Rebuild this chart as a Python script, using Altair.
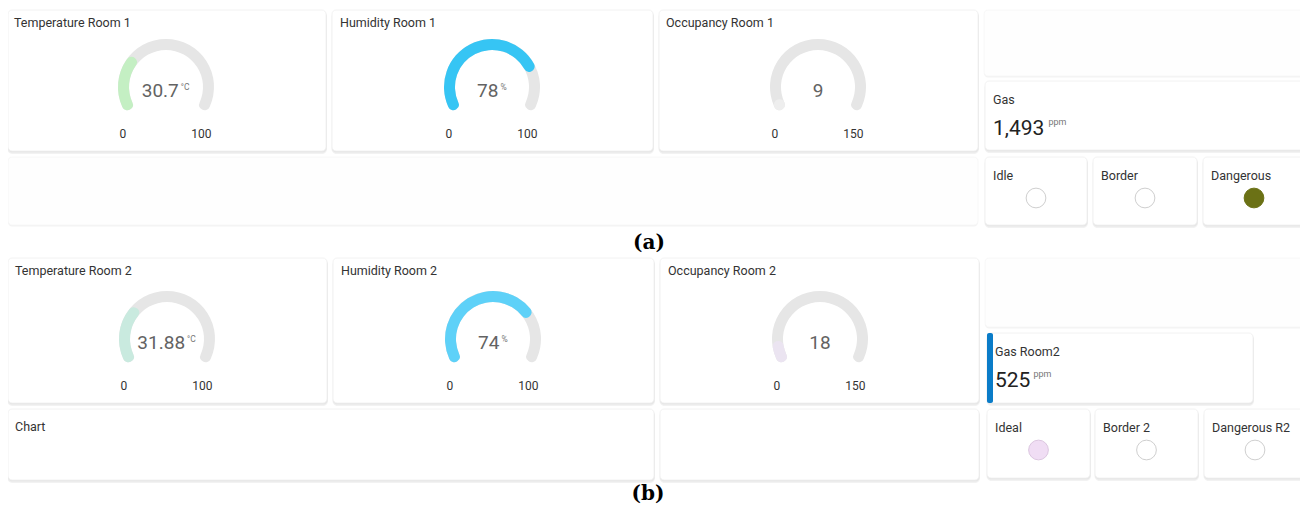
import math
import altair as alt
import pandas as pd

gauge_titles = ["Temperature Room 1", "Humidity Room 1", "Occupancy Room 1",
                "Temperature Room 2", "Humidity Room 2", "Occupancy Room 2"]
gauge_values = [30.7, 78, 9, 31.88, 74, 18]
gauge_value_text = ["30.7", "78", "9", "31.88", "74", "18"]
gauge_min = [0, 0, 0, 0, 0, 0]
gauge_max = [100, 100, 150, 100, 100, 150]
gauge_units = ["°C", "%", "", "°C", "%", ""]
gauge_colors = ["#c4efc3", "#36c5f4", "#eeeeee", "#c9eadf", "#5ed1f8", "#ebe4f1"]

gas_titles = ["Gas", "Gas Room2"]
gas_values = [1493, 525]
gas_unit = "ppm"

indicator_labels = ["Idle", "Border", "Dangerous", "Ideal", "Border 2", "Dangerous R2"]
indicator_fill = ["#ffffff", "#ffffff", "#6b7115", "#f0ddf4", "#ffffff", "#ffffff"]
indicator_stroke = ["#cfcfcf", "#cfcfcf", "#6b7115", "#dcc6e0", "#cfcfcf", "#cfcfcf"]

panel_labels = ["(a)", "(b)"]
chart_card_title = "Chart"

# ---------------- layout (page pixels) ----------------
W, H = 1292, 496
gauge_cards = [(8, 326, 10, 151), (332, 653, 10, 151), (659, 978, 10, 151),
               (8, 327, 258, 403), (333, 654, 258, 403), (660, 979, 258, 403)]
gauge_title_x = [14, 340, 666, 15, 341, 668]
gauge_cx = [166, 492, 818, 167, 493, 820]
gauge_cy = [87, 87, 87, 339, 339, 339]
gas_cards = [(985, 1305, 81, 150), (987, 1253, 333, 403)]
indicator_cards = [(985, 1087, 157, 225), (1093, 1197, 157, 225), (1203, 1305, 157, 225),
                   (987, 1090, 409, 478), (1095, 1198, 409, 478), (1204, 1306, 409, 478)]
other_cards = [(8, 654, 409, 480), (660, 979, 409, 480)]
faint_cards = [(8, 978, 157, 225), (984, 1312, 10, 76), (985, 1312, 258, 327)]
panel_xy = [(649, 243), (648, 494)]

R_OUT, R_IN = 48, 37
HALF = math.radians(122)
TWO_PI = 2 * math.pi


def text_width(s, size):
    w = 0.0
    for ch in s:
        if ch.isdigit():
            w += 0.562
        elif ch in ".,":
            w += 0.25
        elif ch == "%":
            w += 0.73
        elif ch == "°":
            w += 0.38
        else:
            w += 0.65
    return w * size


# ---------------- tables ----------------
cards = pd.DataFrame(
    [dict(x0=a, x1=b, y0=c, y1=d) for a, b, c, d in
     gauge_cards + gas_cards + indicator_cards + other_cards]
)
faint = pd.DataFrame([dict(x0=a, x1=b, y0=c, y1=d) for a, b, c, d in faint_cards])

grows = []
for i in range(len(gauge_titles)):
    cx, cy = gauge_cx[i], gauge_cy[i]
    vw = text_width(gauge_value_text[i], 19)
    uw = text_width(gauge_units[i], 9) if gauge_units[i] else 0
    gap = 2 if gauge_units[i] else 0
    right = cx + (vw + gap + uw) / 2 - uw - gap
    grows.append(dict(
        title=gauge_titles[i],
        value=gauge_values[i], vtext=gauge_value_text[i],
        vmin=gauge_min[i], vmax=gauge_max[i],
        frac=(gauge_values[i] - gauge_min[i]) / (gauge_max[i] - gauge_min[i]),
        zero=0.0, one=1.0,
        unit=gauge_units[i], color=gauge_colors[i],
        cx=cx, cy=cy, vx=right, vy=cy + 10, ux=right + gap, uy=cy + 2.5,
        lx=cx - 46.5, rx=cx + 45.5, ly=cy + 47,
        minlab=str(gauge_min[i]), maxlab=str(gauge_max[i]),
    ))
gauges = pd.DataFrame(grows)

labels = []
for i, t in enumerate(gauge_titles):
    labels.append(dict(x=gauge_title_x[i], y=gauge_cards[i][2] + 13, text=t))
for i, t in enumerate(gas_titles):
    labels.append(dict(x=gas_cards[i][0] + 8, y=gas_cards[i][2] + 19, text=t))
for i, t in enumerate(indicator_labels):
    labels.append(dict(x=indicator_cards[i][0] + 8, y=indicator_cards[i][2] + 18.5, text=t))
labels.append(dict(x=15, y=427, text=chart_card_title))
labels = pd.DataFrame(labels)

gas = []
for i, v in enumerate(gas_values):
    s = f"{v:,}"
    x0 = gas_cards[i][0] + 8
    gas.append(dict(text=s, x=x0, y=gas_cards[i][2] + 54,
                    ux=x0 + text_width(s, 21) + 3, uy=gas_cards[i][2] + 44, unit=gas_unit))
gas = pd.DataFrame(gas)

accent = pd.DataFrame([dict(x0=gas_cards[1][0], x1=gas_cards[1][0] + 6,
                            y0=gas_cards[1][2], y1=gas_cards[1][3])])

inds = pd.DataFrame([dict(x=(c[0] + c[1]) / 2, y=c[2] + 41, fill=indicator_fill[i],
                          stroke=indicator_stroke[i], label=indicator_labels[i])
                     for i, c in enumerate(indicator_cards)])

panels = pd.DataFrame([dict(x=xy[0], y=xy[1], text=t) for xy, t in zip(panel_xy, panel_labels)])

# ---------------- scales ----------------
xs = alt.Scale(domain=[8, 8 + W], range=[0, W])
ys = alt.Scale(domain=[8, 8 + H], range=[0, H])
theta_scale = alt.Scale(domain=[0, 1], range=[TWO_PI - HALF, TWO_PI + HALF])


def X(f):
    return alt.X(f"{f}:Q", scale=xs, axis=None)


def Y(f):
    return alt.Y(f"{f}:Q", scale=ys, axis=None)


FONT = "Roboto"

faint_shadow = alt.Chart(faint).transform_calculate(
    sy1="datum.y1 + 1.5"
).mark_rect(fill="#f3f3f3", cornerRadius=4).encode(
    x=X("x0"), x2=alt.X2("x1"), y=Y("y0"), y2=alt.Y2("sy1"))

faint_card = alt.Chart(faint).mark_rect(fill="#fefefe", stroke="#f6f6f6", strokeWidth=0.8,
                                        cornerRadius=4).encode(
    x=X("x0"), x2=alt.X2("x1"), y=Y("y0"), y2=alt.Y2("y1"))

shadow2 = alt.Chart(cards).transform_calculate(
    sy0="datum.y0 + 2", sy1="datum.y1 + 3", sx0="datum.x0 - 0.5", sx1="datum.x1 + 1"
).mark_rect(fill="#f2f2f2", cornerRadius=5).encode(
    x=X("sx0"), x2=alt.X2("sx1"), y=Y("sy0"), y2=alt.Y2("sy1"))

shadow1 = alt.Chart(cards).transform_calculate(
    sy0="datum.y0 + 1", sy1="datum.y1 + 1.5", sx1="datum.x1 + 0.5"
).mark_rect(fill="#e6e6e6", cornerRadius=4).encode(
    x=X("x0"), x2=alt.X2("sx1"), y=Y("sy0"), y2=alt.Y2("sy1"))

card = alt.Chart(cards).mark_rect(fill="#ffffff", stroke="#efefef", strokeWidth=0.8,
                                  cornerRadius=4).encode(
    x=X("x0"), x2=alt.X2("x1"), y=Y("y0"), y2=alt.Y2("y1"))

accent_bar = alt.Chart(accent).mark_rect(fill="#0a7cc8", cornerRadius=2).encode(
    x=X("x0"), x2=alt.X2("x1"), y=Y("y0"), y2=alt.Y2("y1"))

arc_bg = alt.Chart(gauges).mark_arc(radius=R_OUT, radius2=R_IN, cornerRadius=5.5,
                                    fill="#e6e6e6").encode(
    x=X("cx"), y=Y("cy"),
    theta=alt.Theta("zero:Q", scale=theta_scale, stack=None),
    theta2=alt.Theta2("one:Q"))

arc_fg = alt.Chart(gauges).mark_arc(radius=R_OUT, radius2=R_IN, cornerRadius=5.5).encode(
    x=X("cx"), y=Y("cy"),
    theta=alt.Theta("zero:Q", scale=theta_scale, stack=None),
    theta2=alt.Theta2("frac:Q"),
    fill=alt.Fill("color:N", scale=None))

val_text = alt.Chart(gauges).mark_text(align="right", baseline="alphabetic", font=FONT,
                                       fontSize=19, color="#636363").encode(
    x=X("vx"), y=Y("vy"), text="vtext:N")

unit_text = alt.Chart(gauges).transform_filter("datum.unit != ''").mark_text(
    align="left", baseline="alphabetic", font=FONT, fontSize=8.5, color="#777777").encode(
    x=X("ux"), y=Y("uy"), text="unit:N")

min_text = alt.Chart(gauges).mark_text(align="left", baseline="middle", font=FONT,
                                       fontSize=12, color="#333333").encode(
    x=X("lx"), y=Y("ly"), text="minlab:N")

max_text = alt.Chart(gauges).mark_text(align="right", baseline="middle", font=FONT,
                                       fontSize=12, color="#333333").encode(
    x=X("rx"), y=Y("ly"), text="maxlab:N")

title_text = alt.Chart(labels).mark_text(align="left", baseline="middle", font=FONT,
                                         fontSize=12.5, color="#333333").encode(
    x=X("x"), y=Y("y"), text="text:N")

gas_text = alt.Chart(gas).mark_text(align="left", baseline="alphabetic", font=FONT,
                                    fontSize=21, color="#222222").encode(
    x=X("x"), y=Y("y"), text="text:N")

gas_unit_text = alt.Chart(gas).mark_text(align="left", baseline="alphabetic", font=FONT,
                                         fontSize=9, color="#777777").encode(
    x=X("ux"), y=Y("uy"), text="unit:N")

ind_points = alt.Chart(inds).mark_point(shape="circle", size=390, filled=True,
                                        strokeWidth=1, opacity=1).encode(
    x=X("x"), y=Y("y"),
    fill=alt.Fill("fill:N", scale=None),
    stroke=alt.Stroke("stroke:N", scale=None))

panel_text = alt.Chart(panels).mark_text(align="center", baseline="middle",
                                         font="DejaVu Serif", fontWeight="bold",
                                         fontSize=20, color="#000000").encode(
    x=X("x"), y=Y("y"), text="text:N")

chart = alt.layer(
    faint_shadow, faint_card, shadow2, shadow1, card, accent_bar, arc_bg, arc_fg,
    val_text, unit_text, min_text, max_text, title_text, gas_text, gas_unit_text,
    ind_points, panel_text
).properties(
    width=W, height=H, padding=0,
    autosize=alt.AutoSizeParams(type="none"),
    background="#ffffff",
).configure_view(stroke="transparent")

chart.save("out.html", embed_options={"renderer": "svg", "actions": False})
